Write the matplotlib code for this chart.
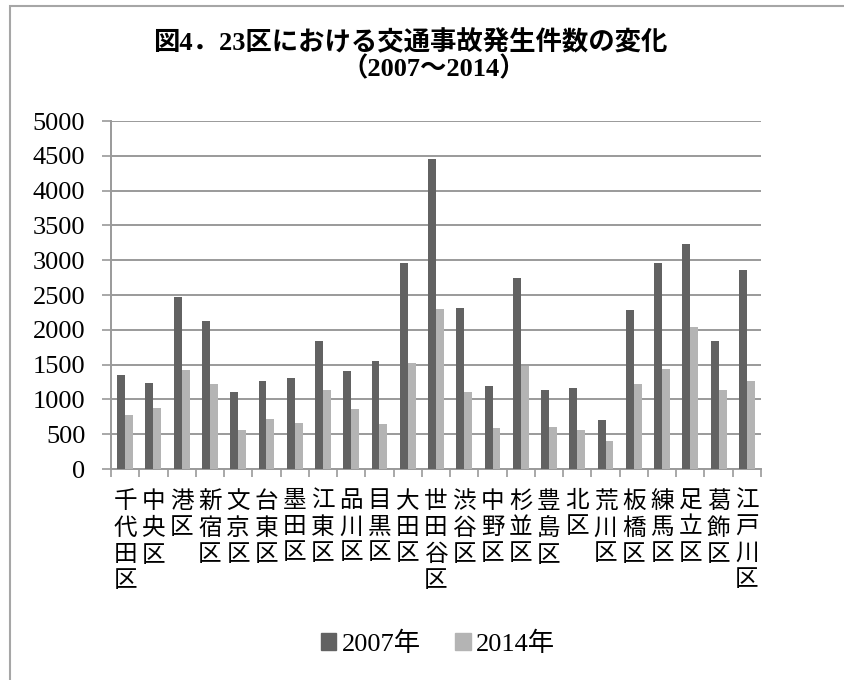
import matplotlib
matplotlib.use("Agg")
from matplotlib import pyplot as plt
from matplotlib.patches import Patch, Rectangle
import numpy as np

plt.rcParams['font.family'] = ['Liberation Serif', 'Noto Sans CJK JP']

wards = ["千代田区", "中央区", "港区", "新宿区", "文京区", "台東区", "墨田区",
         "江東区", "品川区", "目黒区", "大田区", "世田谷区", "渋谷区", "中野区",
         "杉並区", "豊島区", "北区", "荒川区", "板橋区", "練馬区", "足立区",
         "葛飾区", "江戸川区"]
y2007 = [1355, 1230, 2470, 2121, 1106, 1269, 1307, 1843, 1407, 1556, 2954, 4457,
         2312, 1197, 2743, 1130, 1168, 708, 2288, 2954, 3236, 1833, 2858]
y2014 = [771, 871, 1417, 1221, 565, 723, 661, 1130, 862, 641, 1527, 2303,
         1101, 584, 1474, 608, 565, 397, 1221, 1441, 2044, 1139, 1264]
series = ["2007年", "2014年"]
yticks = list(range(0, 5001, 500))

W, H = 845, 680
dark = "#626262"
light = "#b4b4b4"
gridc = "#9a9a9a"

fig = plt.figure(figsize=(W / 100, H / 100), dpi=100)

# outer chart frame (only left and top edges are visible in the crop)
fig.patches.append(Rectangle((10 / W, -0.2), 2.0, 1.2 - 6 / H, transform=fig.transFigure,
                             fill=False, edgecolor="#a6a6a6", lw=1.5))

ax = fig.add_axes([111 / W, 1 - 469 / H, (761 - 111) / W, (469 - 121) / H])

x = np.arange(len(wards))
bw = 0.28
ax.bar(x - bw / 2, y2007, bw, color=dark, zorder=3)
ax.bar(x + bw / 2, y2014, bw, color=light, zorder=3)

ax.set_xlim(-0.5, len(wards) - 0.5)
ax.set_ylim(0, 5000)
ax.set_yticks(yticks)
ax.yaxis.grid(True, color=gridc, lw=1.4, zorder=0)

for s in ["top", "right"]:
    ax.spines[s].set_visible(False)
for s in ["left", "bottom"]:
    ax.spines[s].set_color(gridc)
    ax.spines[s].set_linewidth(1.4)

ax.set_xticks(x)
ax.set_xticklabels(["\n".join(w) for w in wards], va="top", fontsize=17,
                   linespacing=1.32)
ax.set_xticks(np.arange(-0.5, len(wards)), minor=True)
ax.tick_params(axis="x", which="major", length=0, pad=16)
ax.tick_params(axis="x", which="minor", length=6, width=1.2, color=gridc, direction="out")
ax.tick_params(axis="y", length=6.5, width=1.2, color=gridc, pad=12, labelsize=19)

fig.text(410 / W, 1 - 43 / H, "図4．23区における交通事故発生件数の変化",
         ha="center", va="center", fontsize=19, fontweight="bold")
fig.text(434 / W, 1 - 69 / H, "（2007～2014）",
         ha="center", va="center", fontsize=19, fontweight="bold")

handles = [Patch(color=dark), Patch(color=light)]
fig.legend(handles, series, loc="center", bbox_to_anchor=(438 / W, 1 - 644 / H),
           ncol=2, frameon=False, fontsize=19, handlelength=0.6, handleheight=0.6,
           handletextpad=0.2, columnspacing=1.3)

fig.savefig("out.png", dpi=100)
